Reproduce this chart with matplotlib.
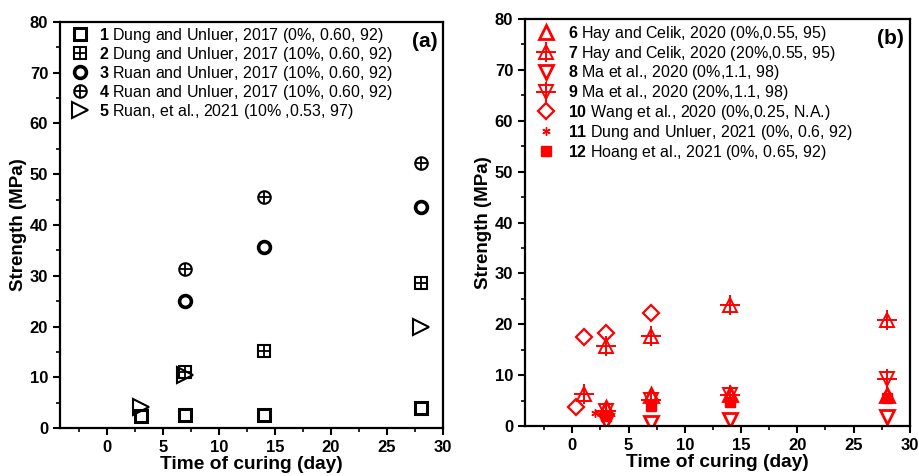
import matplotlib.pyplot as plt
from matplotlib.ticker import MultipleLocator

plt.rcParams['font.family'] = ['Liberation Sans', 'DejaVu Sans']
plt.rcParams['mathtext.fontset'] = 'custom'
plt.rcParams['mathtext.rm'] = 'Liberation Sans'
plt.rcParams['mathtext.bf'] = 'Liberation Sans:bold'

# panel (a) data
labels_a = [
    r"$\mathbf{1}$ Dung and Unluer, 2017 (0%, 0.60, 92)",
    r"$\mathbf{2}$ Dung and Unluer, 2017 (10%, 0.60, 92)",
    r"$\mathbf{3}$ Ruan and Unluer, 2017 (10%, 0.60, 92)",
    r"$\mathbf{4}$ Ruan and Unluer, 2017 (10%, 0.60, 92)",
    r"$\mathbf{5}$ Ruan, et al., 2021 (10% ,0.53, 97)",
]
days_a = [
    [3, 7, 14, 28],
    [7, 14, 28],
    [7, 14, 28],
    [7, 14, 28],
    [3, 7, 28],
]
strength_a = [
    [2.3, 2.6, 2.6, 3.9],
    [11.1, 15.1, 28.6],
    [25.1, 35.6, 43.5],
    [31.3, 45.6, 52.3],
    [4.2, 10.4, 20.0],
]

# panel (b) data
labels_b = [
    r"$\mathbf{6}$ Hay and Celik, 2020 (0%,0.55, 95)",
    r"$\mathbf{7}$ Hay and Celik, 2020 (20%,0.55, 95)",
    r"$\mathbf{8}$ Ma et al., 2020 (0%,1.1, 98)",
    r"$\mathbf{9}$ Ma et al., 2020 (20%,1.1, 98)",
    r"$\mathbf{10}$ Wang et al., 2020 (0%,0.25, N.A.)",
    r"$\mathbf{11}$ Dung and Unluer, 2021 (0%, 0.6, 92)",
    r"$\mathbf{12}$ Hoang et al., 2021 (0%, 0.65, 92)",
]
days_b = [
    [3, 7, 14, 28],
    [1, 3, 7, 14, 28],
    [3, 7, 14, 28],
    [3, 7, 14, 28],
    [0.3, 1, 3, 7],
    [2, 3, 7, 14, 28],
    [3, 7, 14, 28],
]
strength_b = [
    [3.5, 6.0, 6.3, 6.0],
    [6.2, 15.8, 17.7, 23.7, 20.9],
    [0.9, 0.6, 1.1, 1.8],
    [3.0, 5.2, 6.0, 9.3],
    [3.7, 17.5, 18.3, 22.3],
    [2.5, 2.7, 4.5, 4.8, 5.5],
    [2.0, 4.0, 4.8, 5.5],
]

fig = plt.figure(figsize=(9.2, 4.76), dpi=100)
ax1 = fig.add_axes([0.0652, 0.1008, 0.4163, 0.853])
ax2 = fig.add_axes([0.5707, 0.105, 0.4183, 0.855])


def pts(ax, x, y, marker, ms, mew, color, fill='none'):
    h, = ax.plot(x, y, linestyle='none', marker=marker, markersize=ms,
                 markeredgewidth=mew, markeredgecolor=color,
                 markerfacecolor=fill)
    return h


# (a)
k = 'black'
handles_a = [
    pts(ax1, days_a[0], strength_a[0], 's', 8.5, 2.2, k),
    (pts(ax1, days_a[1], strength_a[1], 's', 8, 1.5, k),
     pts(ax1, days_a[1], strength_a[1], '+', 8, 1.3, k)),
    pts(ax1, days_a[2], strength_a[2], 'o', 8.5, 2.6, k),
    (pts(ax1, days_a[3], strength_a[3], 'o', 9, 1.5, k),
     pts(ax1, days_a[3], strength_a[3], '+', 9, 1.3, k)),
    pts(ax1, days_a[4], strength_a[4], '>', 11, 1.5, k),
]

# (b)
red = '#ff0000'
handles_b = [
    pts(ax2, days_b[0], strength_b[0], '^', 10, 2.0, red),
    (pts(ax2, days_b[1], strength_b[1], '^', 10, 1.4, red),
     pts(ax2, days_b[1], strength_b[1], '+', 14, 1.4, red)),
    pts(ax2, days_b[2], strength_b[2], 'v', 10, 2.0, red),
    (pts(ax2, days_b[3], strength_b[3], 'v', 10, 1.4, red),
     pts(ax2, days_b[3], strength_b[3], '+', 14, 1.4, red)),
    pts(ax2, days_b[4], strength_b[4], 'D', 8, 1.6, red),
    pts(ax2, days_b[5], strength_b[5], (6, 2, 0), 6, 1.0, red),
    pts(ax2, days_b[6], strength_b[6], 's', 7, 1.0, red, fill=red),
]

for ax, tag in [(ax1, '(a)'), (ax2, '(b)')]:
    ax.set_xlim(-4.2, 30)
    ax.set_ylim(0, 80)
    ax.xaxis.set_major_locator(MultipleLocator(5))
    ax.xaxis.set_minor_locator(MultipleLocator(2.5))
    ax.yaxis.set_major_locator(MultipleLocator(10))
    ax.yaxis.set_minor_locator(MultipleLocator(5))
    ax.tick_params(which='major', direction='out', length=5, width=1.5,
                   labelsize=12)
    ax.tick_params(which='minor', direction='out', length=3, width=1.2)
    for lab in ax.get_xticklabels() + ax.get_yticklabels():
        lab.set_fontweight('bold')
    for sp in ax.spines.values():
        sp.set_linewidth(1.6)
    ax.set_xlabel('Time of curing (day)', fontsize=13.8, fontweight='bold',
                  labelpad=1)
    ax.set_ylabel('Strength (MPa)', fontsize=13.5, fontweight='bold',
                  labelpad=2)
    ax.text(0.985, 0.975, tag, transform=ax.transAxes, ha='right', va='top',
            fontsize=15, fontweight='bold')

ax1.legend(handles_a, labels_a, loc='upper left', bbox_to_anchor=(0.021, 1.0),
           frameon=False, fontsize=11.5, handlelength=1, handletextpad=0.7,
           labelspacing=0.0, borderaxespad=0.1, borderpad=0.15)
ax2.legend(handles_b, labels_b, loc='upper left', bbox_to_anchor=(0.016, 1.0),
           frameon=False, fontsize=11.5, handlelength=1.2, handletextpad=0.8,
           labelspacing=0.05, borderaxespad=0.1, borderpad=0.2)

plt.savefig('out.png', dpi=100)
plt.close()
